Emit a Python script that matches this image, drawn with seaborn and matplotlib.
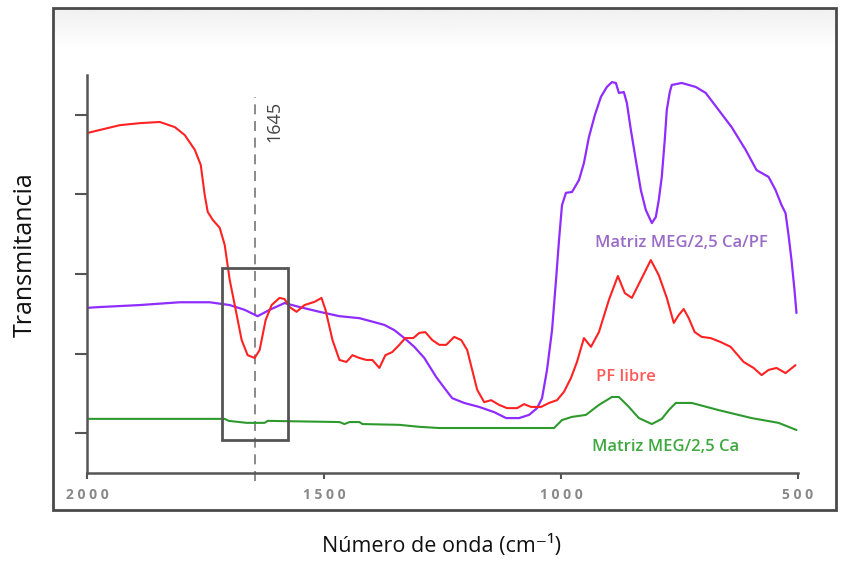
import numpy as np
import pandas as pd
import matplotlib
matplotlib.use("Agg")
import matplotlib.pyplot as plt
from matplotlib.patches import Rectangle
import seaborn as sns

# ---------------- data ----------------
wn_pf = [2000, 1972.6, 1930.5, 1888.4, 1846.3, 1814.7, 1793.7, 1772.6, 1760.0, 1751.6, 1745.3,
         1734.7, 1720.0, 1709.5, 1698.9, 1686.3, 1673.7, 1661.1, 1646.3, 1635.8, 1623.2, 1610.5,
         1593.7, 1583.2, 1572.6, 1557.9, 1541.1, 1520.0, 1505.3, 1496.8, 1482.1, 1467.4, 1452.6,
         1440.0, 1425.3, 1410.5, 1397.9, 1383.2, 1370.5, 1355.8, 1341.1, 1328.4, 1311.6, 1298.9,
         1286.3, 1271.6, 1256.8, 1242.1, 1225.3, 1210.5, 1197.9, 1187.4, 1176.8, 1162.1, 1147.4,
         1130.5, 1113.7, 1092.6, 1077.9, 1063.2, 1042.1, 1025.3, 1008.4, 993.7, 978.9, 966.3,
         951.6, 936.8, 920.0, 898.9, 880.0, 865.3, 850.5, 831.6, 810.5, 793.7, 776.8, 762.1,
         751.6, 741.1, 730.5, 717.9, 703.2, 684.2, 663.2, 642.1, 614.7, 593.7, 576.8, 562.1,
         545.3, 526.3, 505.3]
t_pf = [8.54, 8.62, 8.74, 8.79, 8.82, 8.69, 8.49, 8.12, 7.74, 6.98, 6.56,
        6.36, 6.16, 5.73, 4.85, 4.10, 3.34, 2.96, 2.89, 3.09, 3.84, 4.22,
        4.40, 4.37, 4.17, 4.05, 4.22, 4.30, 4.40, 4.10, 3.34, 2.84, 2.79,
        2.96, 2.89, 2.84, 2.84, 2.64, 2.96, 3.04, 3.22, 3.39, 3.39, 3.52,
        3.54, 3.34, 3.22, 3.22, 3.42, 3.34, 3.09, 2.59, 2.09, 1.78, 1.83,
        1.71, 1.63, 1.63, 1.73, 1.66, 1.66, 1.76, 1.83, 2.04, 2.39, 2.79,
        3.39, 3.17, 3.54, 4.35, 4.95, 4.52, 4.40, 4.85, 5.35, 4.97, 4.40, 3.77,
        3.97, 4.12, 3.89, 3.54, 3.42, 3.39, 3.29, 3.17, 2.79, 2.64, 2.46, 2.59,
        2.64, 2.51, 2.71]

wn_mix = [2000, 1972.6, 1888.4, 1804.2, 1741.1, 1699.0, 1667.4, 1640.0, 1614.7, 1583.2, 1551.6,
          1509.5, 1467.4, 1425.3, 1393.7, 1372.6, 1351.6, 1330.5, 1309.5, 1288.4, 1263.2, 1246.3,
          1229.5, 1204.2, 1172.6, 1141.1, 1115.8, 1088.4, 1067.4, 1050.5, 1040.0, 1029.5, 1018.9,
          1010.5, 1004.2, 997.9, 989.5, 976.8, 962.1, 951.6, 941.1, 928.4, 915.8, 903.2, 892.6,
          884.2, 877.9, 867.4, 861.1, 852.6, 842.1, 831.6, 821.1, 808.4, 800.0, 793.7, 787.4,
          781.1, 776.8, 770.5, 766.3, 745.3, 715.8, 694.7, 667.4, 640.0, 610.5, 587.4, 562.1,
          547.4, 534.7, 526.3, 520.0, 513.7, 507.4, 503.2]
t_mix = [4.15, 4.17, 4.22, 4.29, 4.29, 4.22, 4.10, 3.94, 4.10, 4.27, 4.17,
         4.05, 3.94, 3.89, 3.79, 3.72, 3.59, 3.39, 3.17, 2.89, 2.41, 2.14,
         1.88, 1.76, 1.66, 1.53, 1.38, 1.38, 1.46, 1.63, 1.88, 2.59, 3.59,
         4.85, 5.85, 6.73, 7.04, 7.06, 7.36, 7.79, 8.44, 9.00, 9.45, 9.70, 9.82,
         9.80, 9.55, 9.57, 9.30, 8.62, 7.86, 7.11, 6.61, 6.28, 6.43, 6.86, 7.44,
         8.37, 9.12, 9.57, 9.75, 9.80, 9.70, 9.55, 9.12, 8.69, 8.12, 7.61, 7.44,
         7.11, 6.73, 6.53, 5.98, 5.35, 4.60, 4.02]

wn_meg = [2000, 1709.5, 1701.1, 1663.2, 1625.3, 1618.9, 1467.4, 1456.8, 1446.3, 1425.3, 1418.9,
          1341.1, 1298.9, 1256.8, 1014.7, 997.9, 976.8, 947.4, 920.0, 892.6, 877.9, 856.8,
          835.8, 808.4, 787.4, 772.6, 757.9, 724.2, 667.4, 597.9, 541.1, 503.2]
t_meg = [1.36, 1.36, 1.31, 1.26, 1.26, 1.31, 1.28, 1.23, 1.28, 1.28, 1.23,
         1.21, 1.16, 1.13, 1.13, 1.33, 1.41, 1.46, 1.71, 1.91, 1.91, 1.66,
         1.38, 1.23, 1.36, 1.58, 1.76, 1.76, 1.58, 1.38, 1.26, 1.08]

x_ticks = [2000, 1500, 1000, 500]
x_ticklabels = ["2 0 0 0", "1 5 0 0", "1 0 0 0", "5 0 0"]
marked_band = 1645

# ---------------- style ----------------
sns.set_style("white")
plt.rcParams["font.family"] = ["Open Sans", "DejaVu Sans"]

W, H = 842, 562
fig = plt.figure(figsize=(W / 100, H / 100), dpi=100)

# outer frame with a light gradient at its top
fx0, fx1, fy0, fy1 = 53, 836, 8, 510
grad_ax = fig.add_axes([fx0 / W, 1 - 48 / H, (fx1 - fx0) / W, 40 / H], zorder=0)
grad = np.linspace(0.94, 1.0, 64).reshape(-1, 1)
grad_ax.imshow(grad, aspect="auto", cmap="gray", vmin=0, vmax=1, extent=[0, 1, 0, 1],
               origin="upper")
grad_ax.axis("off")
fig.patches.append(Rectangle((fx0 / W, 1 - fy1 / H), (fx1 - fx0) / W, (fy1 - fy0) / H,
                             transform=fig.transFigure, fill=False, edgecolor="#4a4a4a",
                             linewidth=2.0, zorder=5))

ax = fig.add_axes([87 / W, 1 - 473 / H, (798 - 87) / W, (473 - 75) / H], zorder=2)
ax.patch.set_alpha(0)

df_pf = pd.DataFrame({"wn": wn_pf, "t": t_pf})
df_mix = pd.DataFrame({"wn": wn_mix, "t": t_mix})
df_meg = pd.DataFrame({"wn": wn_meg, "t": t_meg})

sns.lineplot(data=df_meg, x="wn", y="t", ax=ax, color="#2e9a2e", lw=1.5, sort=False)
sns.lineplot(data=df_mix, x="wn", y="t", ax=ax, color="#8f2cff", lw=1.6, sort=False)
sns.lineplot(data=df_pf, x="wn", y="t", ax=ax, color="#ff2222", lw=1.5, sort=False)

ax.set_xlim(2000, 500)
ax.set_ylim(0, 10)
ax.set_xlabel("")
ax.set_ylabel("")

# dashed marker line + label
ax.plot([marked_band, marked_band], [-0.2, 9.45], color="#777777", lw=1.2,
        dashes=(6, 4), clip_on=False, zorder=1)
ax.text(1604, 8.84, str(marked_band), rotation=90, ha="center", va="center",
        fontsize=13, color="#444444")

# highlight box
ax.add_patch(Rectangle((1577, 0.83), 1716 - 1577, 5.15 - 0.83, fill=False,
                       edgecolor="#555555", linewidth=2.0, zorder=4))

# series labels
ax.text(747, 5.78, "Matriz MEG/2,5 Ca/PF", ha="center", va="center", fontsize=12,
        color="#9a6cc8", fontweight="semibold")
ax.text(863, 2.41, "PF libre", ha="center", va="center", fontsize=12,
        color="#ff5a5a", fontweight="semibold")
ax.text(779, 0.65, "Matriz MEG/2,5 Ca", ha="center", va="center", fontsize=12,
        color="#3fa83f", fontweight="semibold")

# spines & ticks
for s in ["top", "right"]:
    ax.spines[s].set_visible(False)
for s in ["left", "bottom"]:
    ax.spines[s].set_color("#555555")
    ax.spines[s].set_linewidth(1.8)

ax.set_xticks(x_ticks)
ax.set_xticklabels(x_ticklabels)
ax.set_xticks([1750, 750], minor=True)
ax.set_yticks([1, 3, 5, 7, 9])
ax.set_yticks([0, 2, 4, 6, 8, 10], minor=True)
ax.set_yticklabels([])
ax.tick_params(axis="x", which="major", direction="out", length=4, width=1.5,
               color="#555555", pad=7, labelsize=10, labelcolor="#888888")
ax.tick_params(axis="x", which="minor", direction="out", length=2, width=1.5, color="#555555")
ax.tick_params(axis="y", which="major", direction="out", length=9, width=1.5, color="#555555")
ax.tick_params(axis="y", which="minor", direction="out", length=5, width=1.5, color="#555555")
ax.tick_params(left=True, bottom=True)
for lbl in ax.get_xticklabels():
    lbl.set_fontweight("bold")

fig.text(25 / W, 1 - 255 / H, "Transmitancia", rotation=90, ha="center", va="center",
         fontsize=18, color="#111111")
fig.text(441 / W, 1 - 546 / H, "Número de onda (cm\u207b\u00b9)", ha="center", va="center",
         fontsize=15.5, color="#111111")

fig.savefig("out.png", dpi=100)
